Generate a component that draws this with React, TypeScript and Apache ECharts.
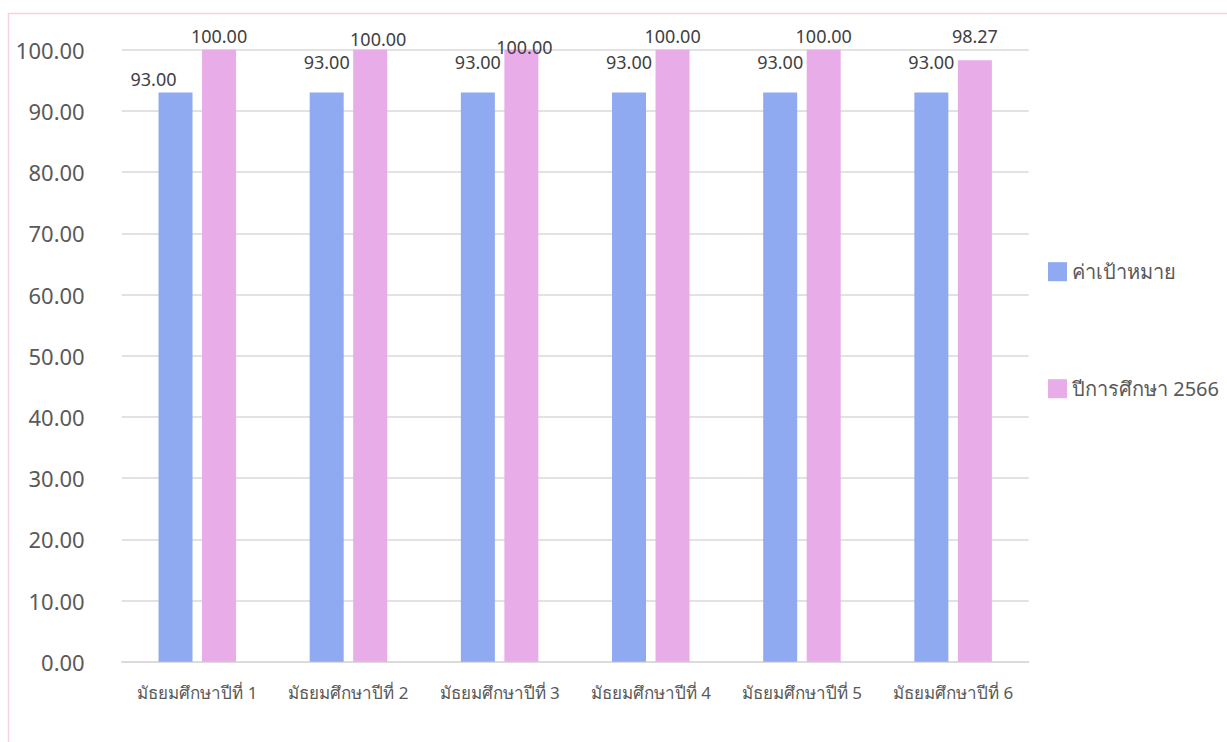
import React, { useEffect, useRef } from "react";
import * as echarts from "echarts";

const categories = [
  "มัธยมศึกษาปีที่ 1",
  "มัธยมศึกษาปีที่ 2",
  "มัธยมศึกษาปีที่ 3",
  "มัธยมศึกษาปีที่ 4",
  "มัธยมศึกษาปีที่ 5",
  "มัธยมศึกษาปีที่ 6",
];
const seriesNames = ["ค่าเป้าหมาย", "ปีการศึกษา 2566"];
const targetValues = [93, 93, 93, 93, 93, 93];
const yearValues = [100, 100, 100, 100, 100, 98.27];

// label nudges to mimic the original's overlapping-label placement
const targetLabelOffsets = [[-22, 0], [0, -17], [0, -17], [0, -17], [0, -17], [0, -17]];
const yearLabelOffsets = [[0, 0], [8, 3], [3, 11], [0, 0], [0, 0], [0, -10]];

const FONT = "'Noto Sans', 'DejaVu Sans', sans-serif";

export default function App() {
  const ref = useRef<HTMLDivElement>(null);
  useEffect(() => {
    if (!ref.current) return;
    const chart = echarts.init(ref.current, null, { renderer: "svg" });
    const mk = (vals: number[], offs: number[][]) =>
      vals.map((v, i) => ({ value: v, label: { offset: offs[i] } }));
    chart.setOption({
      animation: false,
      textStyle: { fontFamily: FONT },
      graphic: [
        {
          type: "rect",
          shape: { x: 8.5, y: 13.5, width: 1400, height: 900 },
          style: { fill: "none", stroke: "#f4d2e6", lineWidth: 1.5 },
          silent: true,
        },
      ],
      grid: { left: 121.7, top: 49.7, width: 907, height: 612, containLabel: false },
      legend: {
        orient: "vertical",
        left: 1043,
        top: 256.7,
        itemWidth: 19,
        itemHeight: 19,
        itemGap: 97,
        icon: "rect",
        textStyle: { fontSize: 20, color: "#595959", fontFamily: FONT, lineHeight: 19, padding: [0, 0, 0, 0] },
        data: seriesNames,
      },
      xAxis: {
        type: "category",
        data: categories,
        axisLine: { lineStyle: { color: "#d9d9d9", width: 1.5 } },
        axisTick: { show: false },
        axisLabel: { color: "#595959", fontSize: 17, margin: 22, fontFamily: FONT, interval: 0 },
      },
      yAxis: {
        type: "value",
        min: 0,
        max: 100,
        interval: 10,
        axisLine: { show: false },
        axisTick: { show: false },
        splitLine: { lineStyle: { color: "#d9d9d9", width: 1.5 } },
        axisLabel: {
          color: "#595959",
          fontSize: 22,
          margin: 37,
          fontFamily: FONT,
          formatter: (v: number) => v.toFixed(2),
        },
      },
      series: [
        {
          name: seriesNames[0],
          type: "bar",
          data: mk(targetValues, targetLabelOffsets),
          barWidth: 34,
          barGap: "28%",
          itemStyle: { color: "#8faaf0" },
          label: {
            show: true,
            position: "top",
            distance: 5,
            color: "#404040",
            fontSize: 18,
            fontFamily: FONT,
            formatter: (p: any) => Number(p.value).toFixed(2),
          },
        },
        {
          name: seriesNames[1],
          type: "bar",
          data: mk(yearValues, yearLabelOffsets),
          barWidth: 34,
          itemStyle: { color: "#e8ace8" },
          label: {
            show: true,
            position: "top",
            distance: 5,
            color: "#404040",
            fontSize: 18,
            fontFamily: FONT,
            formatter: (p: any) => Number(p.value).toFixed(2),
          },
        },
      ],
    });
    return () => chart.dispose();
  }, []);
  return (
    <div
      ref={ref}
      style={{ position: "absolute", left: 0, top: 0, width: 1227, height: 742, background: "#fff" }}
    />
  );
}
